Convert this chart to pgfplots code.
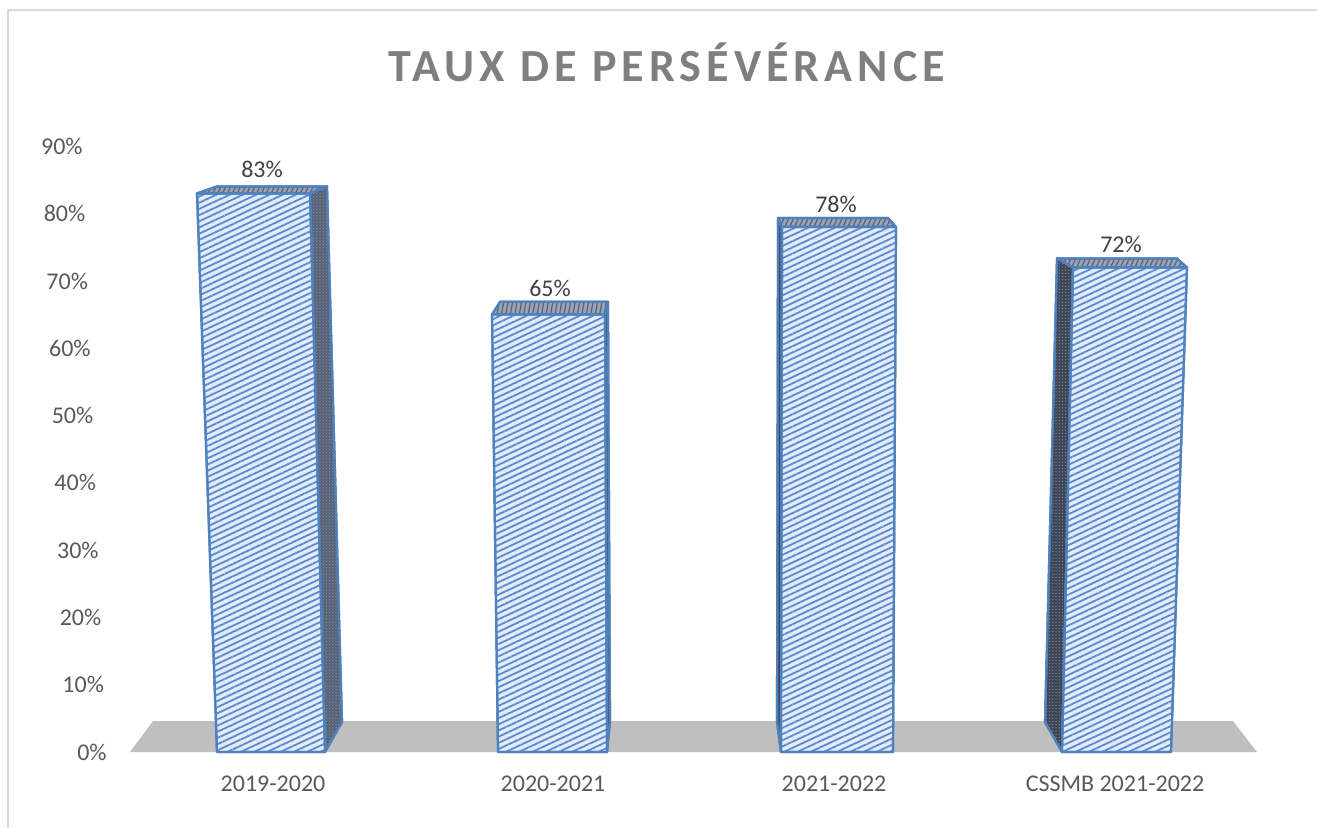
\documentclass[border=0pt]{standalone}
\usepackage{pgfplots}
\pgfplotsset{compat=1.18}
\usepackage{fontspec}
\setmainfont{Carlito}
\newfontfamily\titlefont[LetterSpace=11]{Carlito}
\usetikzlibrary{patterns.meta}
\definecolor{frontfill}{HTML}{E2EBF7}
\definecolor{hatch}{HTML}{5A8AD0}
\definecolor{outline}{HTML}{4F81BD}
\definecolor{topfill}{HTML}{9AA3B5}
\definecolor{tophatch}{HTML}{55627A}
\definecolor{sidefill}{HTML}{3E4554}
\definecolor{sidefillb}{HTML}{5A6478}
\definecolor{sidedots}{HTML}{8090A8}
\definecolor{floorc}{HTML}{BFBFBF}
\definecolor{framec}{HTML}{D9D9D9}
\definecolor{ticktext}{HTML}{595959}
\definecolor{labeltext}{HTML}{404040}
\definecolor{titlec}{HTML}{7F7F7F}
\begin{document}
\begin{tikzpicture}
\begin{axis}[
  x=0.5bp, y=3.365bp,
  xmin=110, xmax=1300, ymin=0, ymax=90,
  axis line style={draw=none},
  major tick length=0pt,
  clip=false, no markers,
  xtick={273,553,834,1115},
  xticklabels={2019-2020,2020-2021,2021-2022,CSSMB 2021-2022},
  ytick={0,10,20,30,40,50,60,70,80,90},
  yticklabels={0\%,10\%,20\%,30\%,40\%,50\%,60\%,70\%,80\%,90\%},
  xticklabel style={anchor=north, inner sep=0pt, yshift=-11.5bp, font=\fontsize{12bp}{14bp}\selectfont, text=ticktext},
  yticklabel style={anchor=east, inner sep=0pt, xshift={-1.5bp-1.333bp*\ticknum}, font=\fontsize{12bp}{14bp}\selectfont, text=ticktext},
  every axis plot/.append style={draw=outline, line width=1.1bp, line join=round},
]
% frame
\draw[framec, line width=1bp] (axis cs:8,-15) -- (axis cs:8,110.25) -- (axis cs:1340,110.25);
% floor
\addplot[draw=none, fill=floorc] coordinates {(130,0) (1257,0) (1233,4.6) (153,4.6)} -- cycle;
% bar 1: 83
\addplot[fill=sidefillb, postaction={pattern={Dots[radius=0.35bp,distance=1.6bp]}, pattern color=sidedots}] coordinates {(310,83) (327,84.04) (342,4.46) (325,0)} -- cycle;
\addplot[fill=topfill, postaction={pattern={Lines[angle=65,distance=2.2bp,line width=0.6bp]}, pattern color=tophatch}] coordinates {(197,83) (310,83) (327,84.04) (217,84.04)} -- cycle;
\addplot[fill=frontfill, postaction={pattern={Lines[angle=25,distance=2.8bp,line width=0.9bp]}, pattern color=hatch}] coordinates {(217,0) (325,0) (310,83) (197,83)} -- cycle;
% bar 2: 65
\addplot[fill=sidefill, postaction={pattern={Dots[radius=0.35bp,distance=1.6bp]}, pattern color=sidedots}] coordinates {(605,65) (608,66.9) (610,4.46) (607,0)} -- cycle;
\addplot[fill=topfill, postaction={pattern={Lines[angle=80,distance=2.2bp,line width=0.6bp]}, pattern color=tophatch}] coordinates {(492,65) (605,65) (608,66.9) (500,66.9)} -- cycle;
\addplot[fill=frontfill, postaction={pattern={Lines[angle=25,distance=2.8bp,line width=0.9bp]}, pattern color=hatch}] coordinates {(498,0) (607,0) (605,65) (492,65)} -- cycle;
% bar 3: 78
\addplot[fill=sidefill, postaction={pattern={Dots[radius=0.35bp,distance=1.6bp]}, pattern color=sidedots}] coordinates {(782,78) (778,79.34) (777,4.46) (781,0)} -- cycle;
\addplot[fill=topfill, postaction={pattern={Lines[angle=65,distance=2.2bp,line width=0.6bp]}, pattern color=tophatch}] coordinates {(782,78) (896,78) (888,79.34) (778,79.34)} -- cycle;
\addplot[fill=frontfill, postaction={pattern={Lines[angle=25,distance=2.8bp,line width=0.9bp]}, pattern color=hatch}] coordinates {(781,0) (893,0) (896,78) (782,78)} -- cycle;
% bar 4: 72
\addplot[fill=sidefill, postaction={pattern={Dots[radius=0.35bp,distance=1.6bp]}, pattern color=sidedots}] coordinates {(1073,72) (1057,73.34) (1045,4.46) (1062,0)} -- cycle;
\addplot[fill=topfill, postaction={pattern={Lines[angle=65,distance=2.2bp,line width=0.6bp]}, pattern color=tophatch}] coordinates {(1073,72) (1187,72) (1177,73.34) (1057,73.34)} -- cycle;
\addplot[fill=frontfill, postaction={pattern={Lines[angle=25,distance=2.8bp,line width=0.9bp]}, pattern color=hatch}] coordinates {(1062,0) (1171,0) (1187,72) (1073,72)} -- cycle;
% data labels
\node[inner sep=0pt, text=labeltext, font=\fontsize{12bp}{14bp}\selectfont] at (axis cs:262,86.55) {83\%};
\node[inner sep=0pt, text=labeltext, font=\fontsize{12bp}{14bp}\selectfont] at (axis cs:550,68.9) {65\%};
\node[inner sep=0pt, text=labeltext, font=\fontsize{12bp}{14bp}\selectfont] at (axis cs:836,81.35) {78\%};
\node[inner sep=0pt, text=labeltext, font=\fontsize{12bp}{14bp}\selectfont] at (axis cs:1121,75.48) {72\%};
% title
\node[inner sep=0pt, text=titlec, font=\titlefont\bfseries\fontsize{23bp}{27bp}\selectfont] at (axis cs:666.5,102.53) {TAUX DE PERSÉVÉRANCE};
\coordinate (TL) at (axis cs:0,111.738);
\coordinate (BR) at (axis cs:1317,-11.144);
\end{axis}
\pgfresetboundingbox
\path[use as bounding box] (TL) rectangle (BR);
\end{tikzpicture}
\end{document}
